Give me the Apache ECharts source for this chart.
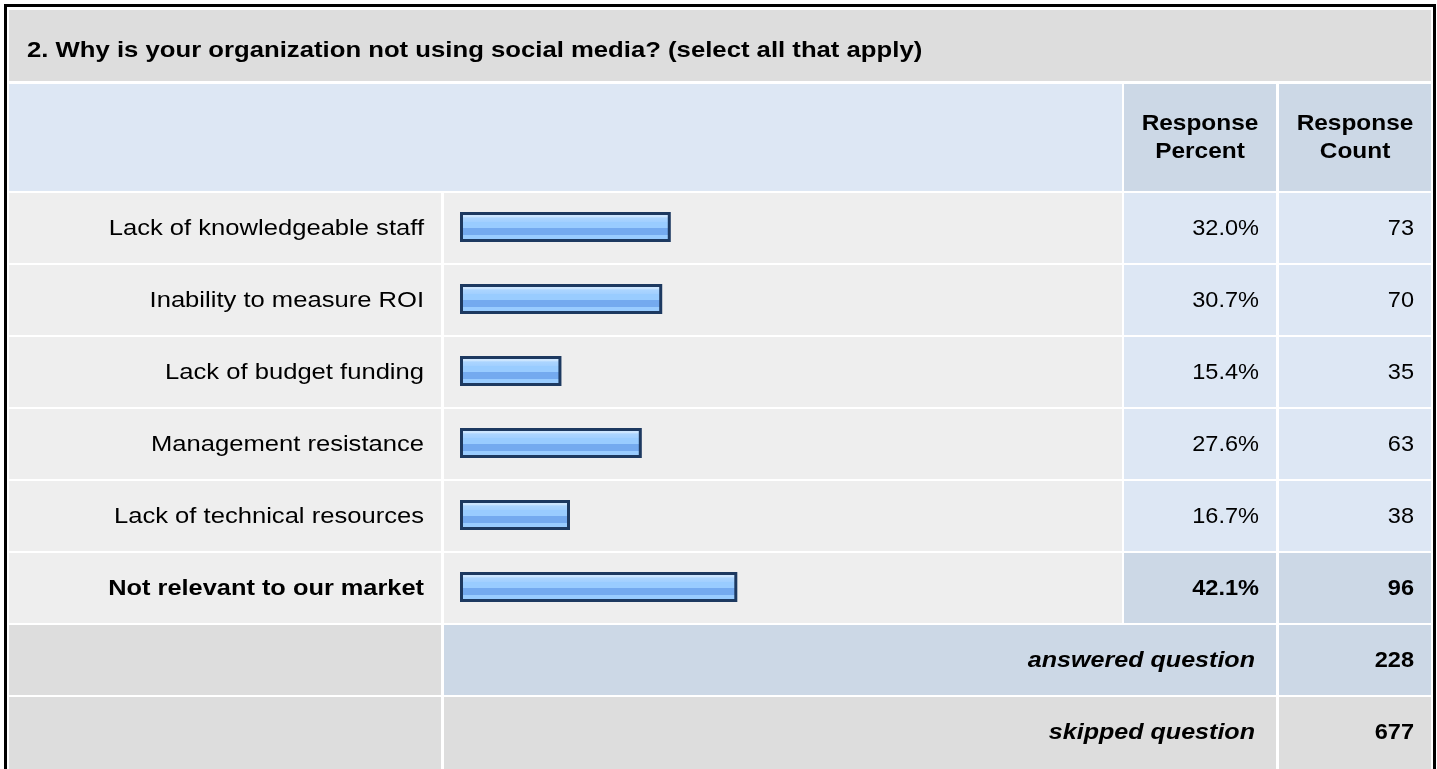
<!DOCTYPE html>
<html>
<head>
<meta charset="utf-8">
<title>Why is your organization not using social media?</title>
<style>
  html, body { margin: 0; padding: 0; background: #ffffff; }
  #chart { width: 1437px; height: 769px; }
</style>
<script src="https://cdn.jsdelivr.net/npm/echarts@6/dist/echarts.min.js"></script>
</head>
<body>
<div id="chart"></div>
<script>
// ---- survey data ----
const questionTitle = '2. Why is your organization not using social media? (select all that apply)';
const headerPercent = ['Response', 'Percent'];
const headerCount = ['Response', 'Count'];
const answerLabels = [
  'Lack of knowledgeable staff',
  'Inability to measure ROI',
  'Lack of budget funding',
  'Management resistance',
  'Lack of technical resources',
  'Not relevant to our market'
];
const responsePercent = [32.0, 30.7, 15.4, 27.6, 16.7, 42.1];
const responseCount = [73, 70, 35, 63, 38, 96];
const summaryLabels = ['answered question', 'skipped question'];
const summaryCounts = [228, 677];

// ---- table layout (pixels) ----
const FONT_FAMILY = '"Liberation Sans", Arial, Helvetica, sans-serif';
const COL = {
  label: { x: 9, w: 432 },
  bar:   { x: 444, w: 678 },
  pct:   { x: 1124, w: 152 },
  cnt:   { x: 1279, w: 152 }
};
const ROW_BAND = 72;
const DATA_TOP = 191;
const PAD = 17;
const C = {
  gray: '#dddddd',
  light: '#eeeeee',
  blue: '#dde7f4',
  blueDark: '#ccd8e6',
  text: '#000000',
  barEdge: '#1d3960'
};
const SX_WORD = 1.163;
const SX_BOLD = 1.153;
const SX_NUM = 1.07;
const SX_HEAD = 1.11;
const SX_FOOT = 1.14;

const topIdx = responsePercent.indexOf(Math.max.apply(null, responsePercent));

function rect(x, y, w, h, fill) {
  return { type: 'rect', shape: { x: x, y: y, width: w, height: h }, style: { fill: fill } };
}
function label(x, y, s, weight, align, sx, italic) {
  const font = (italic ? 'italic ' : '') + weight + ' 22px ' + FONT_FAMILY;
  return {
    type: 'text', x: x, y: y, scaleX: sx,
    style: {
      text: s, font: font, fill: C.text,
      align: align, verticalAlign: 'middle',
      textAlign: align, textVerticalAlign: 'middle'
    }
  };
}

// static frame: title bar, column headers, summary rows and the outer border
const footTop = DATA_TOP + ROW_BAND * answerLabels.length;
const statics = [
  rect(9, 10, 1422, 71, C.gray),
  label(27, 50.5, questionTitle, 'bold', 'left', 1.168),
  rect(9, 84, 1113, 107, C.blue),
  rect(COL.pct.x, 84, COL.pct.w, 107, C.blueDark),
  rect(COL.cnt.x, 84, COL.cnt.w, 107, C.blueDark),
  label(COL.pct.x + COL.pct.w / 2, 123.5, headerPercent[0], 'bold', 'center', SX_HEAD),
  label(COL.pct.x + COL.pct.w / 2, 152, headerPercent[1], 'bold', 'center', SX_HEAD),
  label(COL.cnt.x + COL.cnt.w / 2, 123.5, headerCount[0], 'bold', 'center', SX_HEAD),
  label(COL.cnt.x + COL.cnt.w / 2, 152, headerCount[1], 'bold', 'center', SX_HEAD)
];
summaryLabels.forEach(function (s, k) {
  const top = footTop + ROW_BAND * k + 2;
  const h = ROW_BAND - 2 + (k === summaryLabels.length - 1 ? 20 : 0);
  const cy = footTop + ROW_BAND * k + ROW_BAND / 2 + 2;
  const fill = k === 0 ? C.blueDark : C.gray;
  statics.push(
    rect(COL.label.x, top, COL.label.w, h, C.gray),
    rect(COL.bar.x, top, COL.pct.x + COL.pct.w - COL.bar.x, h, fill),
    rect(COL.cnt.x, top, COL.cnt.w, h, fill),
    label(COL.pct.x + COL.pct.w - 21, cy, s, 'bold', 'right', SX_FOOT, true),
    label(COL.cnt.x + COL.cnt.w - PAD, cy, String(summaryCounts[k]), 'bold', 'right', SX_NUM)
  );
});
statics.push({
  type: 'rect',
  shape: { x: 5.5, y: 5.5, width: 1429, height: 800 },
  style: { fill: null, stroke: '#000000', lineWidth: 3 }
});

// one table row per answer, placed on the category band of the y axis
function renderRow(params, api) {
  const i = api.value(1);
  const cy = api.coord([0, i])[1];
  const band = api.size([0, 1])[1];
  const top = cy - band / 2 + 2;
  const h = band - 2;
  const hl = i === topIdx;
  const weight = hl ? 'bold' : 'normal';
  const cellFill = hl ? C.blueDark : C.blue;
  const ty = cy + 2;
  return {
    type: 'group',
    children: [
      rect(COL.label.x, top, COL.label.w, h, C.light),
      rect(COL.bar.x, top, COL.bar.w, h, C.light),
      rect(COL.pct.x, top, COL.pct.w, h, cellFill),
      rect(COL.cnt.x, top, COL.cnt.w, h, cellFill),
      label(COL.label.x + COL.label.w - PAD, ty, answerLabels[i], weight, 'right', hl ? SX_BOLD : SX_WORD),
      label(COL.pct.x + COL.pct.w - PAD, ty, responsePercent[i].toFixed(1) + '%', weight, 'right', SX_NUM),
      label(COL.cnt.x + COL.cnt.w - PAD, ty, String(responseCount[i]), weight, 'right', SX_NUM)
    ]
  };
}

const barFill = {
  type: 'linear', x: 0, y: 0, x2: 0, y2: 1,
  colorStops: [
    { offset: 0.00, color: '#cfe7ff' },
    { offset: 0.17, color: '#cbe5ff' },
    { offset: 0.19, color: '#acd5ff' },
    { offset: 0.32, color: '#a3d0ff' },
    { offset: 0.34, color: '#99ccff' },
    { offset: 0.52, color: '#99ccff' },
    { offset: 0.55, color: '#74aaef' },
    { offset: 0.75, color: '#74aaef' },
    { offset: 0.78, color: '#99ccff' },
    { offset: 1.00, color: '#99ccff' }
  ]
};

const chart = echarts.init(document.getElementById('chart'), null, { renderer: 'canvas' });
chart.setOption({
  animation: false,
  backgroundColor: '#ffffff',
  graphic: { elements: statics },
  grid: {
    left: 460,
    right: 318.3,
    top: DATA_TOP,
    height: ROW_BAND * answerLabels.length,
    containLabel: false
  },
  xAxis: { type: 'value', min: 0, max: 100, show: false },
  yAxis: { type: 'category', data: answerLabels, inverse: true, show: false },
  series: [
    {
      type: 'custom',
      z: 1,
      silent: true,
      clip: false,
      renderItem: renderRow,
      encode: { x: 0, y: 1 },
      data: responsePercent.map(function (p, i) { return [p, i]; })
    },
    {
      type: 'bar',
      z: 3,
      silent: true,
      barWidth: 30,
      data: responsePercent,
      itemStyle: { color: barFill, borderColor: C.barEdge, borderWidth: 3 }
    }
  ]
});
</script>
</body>
</html>
